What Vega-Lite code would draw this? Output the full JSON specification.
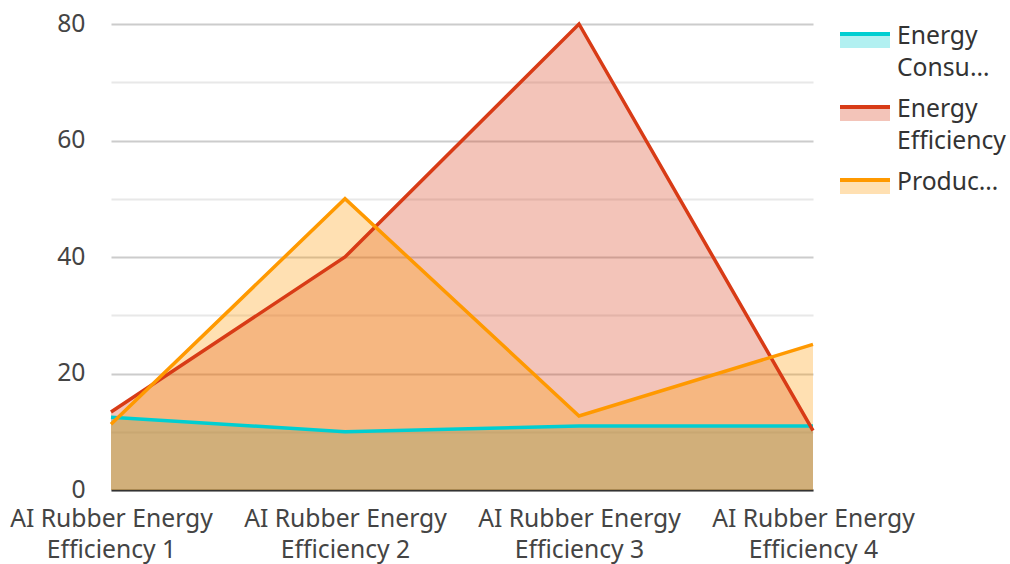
{
  "$schema": "https://vega.github.io/schema/vega-lite/v6.json",
  "width": 702,
  "height": 466,
  "autosize": {"type": "none"},
  "padding": {"left": 111, "top": 24, "right": 197, "bottom": 74},
  "background": "white",
  "config": {
    "font": "Noto Sans",
    "view": {"stroke": null}
  },
  "data": {
    "values": [
      {"cat": "AI Rubber Energy Efficiency 1", "series": "Energy Consumption", "value": 12.5},
      {"cat": "AI Rubber Energy Efficiency 2", "series": "Energy Consumption", "value": 10.0},
      {"cat": "AI Rubber Energy Efficiency 3", "series": "Energy Consumption", "value": 11.0},
      {"cat": "AI Rubber Energy Efficiency 4", "series": "Energy Consumption", "value": 11.0},
      {"cat": "AI Rubber Energy Efficiency 1", "series": "Energy Efficiency", "value": 13.4},
      {"cat": "AI Rubber Energy Efficiency 2", "series": "Energy Efficiency", "value": 40},
      {"cat": "AI Rubber Energy Efficiency 3", "series": "Energy Efficiency", "value": 80},
      {"cat": "AI Rubber Energy Efficiency 4", "series": "Energy Efficiency", "value": 10.2},
      {"cat": "AI Rubber Energy Efficiency 1", "series": "Productivity", "value": 11.3},
      {"cat": "AI Rubber Energy Efficiency 2", "series": "Productivity", "value": 50},
      {"cat": "AI Rubber Energy Efficiency 3", "series": "Productivity", "value": 12.7},
      {"cat": "AI Rubber Energy Efficiency 4", "series": "Productivity", "value": 25}
    ]
  },
  "encoding": {
    "x": {
      "field": "cat", "type": "ordinal",
      "scale": {"type": "point", "padding": 0},
      "axis": {
        "title": null, "labelAngle": 0, "ticks": false,
        "domainColor": "#333333", "domainWidth": 2,
        "labelFontSize": 24.7, "labelColor": "#444444", "labelLineHeight": 31,
        "labelPadding": 29, "labelLimit": 300, "labelBaseline": "middle",
        "labelExpr": "[slice(datum.label, 0, 16), slice(datum.label, 17)]"
      }
    },
    "y": {
      "field": "value", "type": "quantitative", "stack": null,
      "scale": {"domain": [0, 80], "nice": false},
      "axis": {
        "title": null, "values": [0, 10, 20, 30, 40, 50, 60, 70, 80],
        "ticks": false, "domain": false,
        "labelFontSize": 24.7, "labelColor": "#444444", "labelPadding": 26,
        "labelExpr": "datum.value % 20 == 0 ? datum.label : ''",
        "gridColor": {"condition": {"test": "datum.value % 20 == 0", "value": "#cccccc"}, "value": "#e8e8e8"},
        "gridWidth": 2
      }
    },
    "color": {
      "field": "series", "type": "nominal",
      "scale": {"domain": ["Energy Consumption", "Energy Efficiency", "Productivity"], "range": ["#00CED1", "#D83B16", "#FF9900"]},
      "legend": {
        "title": null, "orient": "none", "legendX": 727, "legendY": -10,
        "symbolType": "M-1,-0.28H1V0.28H-1Z", "symbolSize": 2500,
        "symbolStrokeWidth": 4, "symbolDash": [50, 100],
        "labelFontSize": 24.7, "labelColor": "#333333",
        "labelOffset": 5, "rowPadding": 6, "labelLimit": 200,
        "labelExpr": "datum.label == 'Energy Consumption' ? ['Energy', 'Consu…'] : datum.label == 'Energy Efficiency' ? ['Energy', 'Efficiency'] : 'Produc…'",
        "encode": {
          "labels": {
            "update": {
              "lineHeight": {"value": 32},
              "dy": {"value": -4}
            }
          },
          "symbols": {
            "update": {
              "fill": {"scale": "color", "field": "value"},
              "stroke": {"scale": "color", "field": "value"},
              "fillOpacity": {"value": 0.3},
              "strokeOpacity": {"value": 1},
              "opacity": {"value": 1},
              "size": {"value": 2500},
              "strokeWidth": {"value": 4},
              "strokeDash": {"value": [50, 100]}
            }
          }
        }
      }
    }
  },
  "layer": [
    {
      "mark": {"type": "area", "fillOpacity": 0.3}
    },
    {
      "mark": {"type": "line", "strokeWidth": 3.5}
    }
  ]
}
